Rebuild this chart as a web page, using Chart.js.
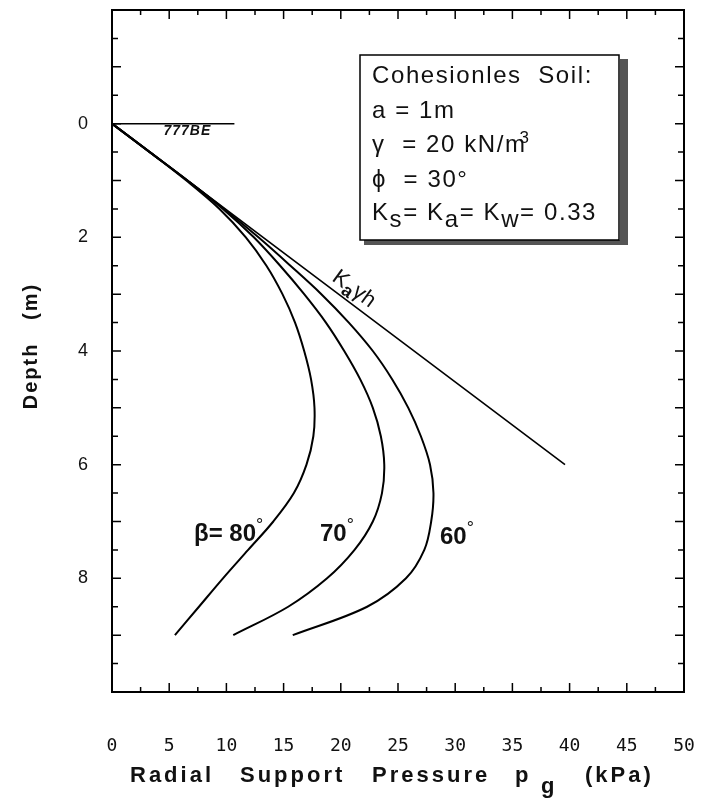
<!DOCTYPE html>
<html>
<head>
<meta charset="utf-8">
<script src="https://cdn.jsdelivr.net/npm/chart.js"></script>
<style>
  body { margin: 0; background: #fff; }
  canvas { display: block; }
</style>
</head>
<body>
<canvas id="supportChart" width="708" height="803"></canvas>
<script>
// depth points (m) shared by the three beta curves
const depth = [0, 0.5, 1, 1.5, 2, 2.5, 3, 3.5, 4, 4.5, 5, 5.5, 6, 6.5, 7, 7.5, 8, 8.5, 9];
// radial support pressure (kPa)
const p80 = [0, 3.3, 6.5, 9.4, 11.7, 13.5, 14.9, 16.0, 16.8, 17.4, 17.7, 17.6, 17.0, 15.9, 14.1, 11.9, 9.7, 7.6, 5.5];
const p70 = [0, 3.3, 6.6, 9.7, 12.4, 14.7, 16.8, 18.7, 20.3, 21.7, 22.8, 23.5, 23.8, 23.6, 22.8, 21.2, 18.8, 15.4, 10.6];
const p60 = [0, 3.3, 6.6, 9.8, 12.8, 15.6, 18.3, 20.7, 22.8, 24.5, 25.9, 27.0, 27.8, 28.1, 27.9, 27.3, 25.7, 22.3, 15.8];
// Ka*gamma*h line
const kaDepth = [0, 6];
const kaP = [0, 39.6];
// ground surface
const groundDepth = [0, 0];
const groundP = [0, 10.7];

const xTicks = [0, 5, 10, 15, 20, 25, 30, 35, 40, 45, 50];
const yTickLabels = [0, 2, 4, 6, 8];

function toPoints(xs, ys) {
  return xs.map((v, i) => ({ x: v, y: ys[i] }));
}

function curve(xs, ys, width) {
  return {
    data: toPoints(xs, ys),
    showLine: true,
    indexAxis: 'y',
    tension: 0.35,
    borderColor: '#000',
    borderWidth: width,
    pointRadius: 0,
    fill: false
  };
}

// draws a run of text pieces, some raised or lowered
function drawRich(ctx, parts, x, y) {
  let cx = x;
  parts.forEach(p => {
    ctx.font = p.font;
    ctx.fillText(p.t, cx, y + (p.dy || 0));
    cx += ctx.measureText(p.t).width + (p.gap || 0);
  });
  return cx;
}

const decorations = {
  id: 'decorations',
  afterDraw(chart) {
    const { ctx, chartArea: a, scales: { x, y } } = chart;
    ctx.save();
    ctx.strokeStyle = '#000';
    ctx.fillStyle = '#111';

    // frame
    ctx.lineWidth = 2;
    ctx.strokeRect(a.left, a.top, a.right - a.left, a.bottom - a.top);

    // inward ticks
    ctx.lineWidth = 1.5;
    ctx.beginPath();
    for (let v = 0; v <= 50; v += 2.5) {
      const px = x.getPixelForValue(v);
      const len = v % 5 === 0 ? 9 : 5;
      ctx.moveTo(px, a.bottom); ctx.lineTo(px, a.bottom - len);
      ctx.moveTo(px, a.top); ctx.lineTo(px, a.top + len);
    }
    for (let d = -2; d <= 10; d += 0.5) {
      const py = y.getPixelForValue(d);
      const len = d % 1 === 0 ? 9 : 6;
      ctx.moveTo(a.left, py); ctx.lineTo(a.left + len, py);
      ctx.moveTo(a.right, py); ctx.lineTo(a.right - len, py);
    }
    ctx.stroke();

    // ground hatch
    ctx.font = 'italic bold 14px "Liberation Sans"';
    ctx.letterSpacing = '1px';
    ctx.fillText('777BE', x.getPixelForValue(4.5), y.getPixelForValue(0) + 11);

    // info box with shadow
    ctx.fillStyle = '#555';
    ctx.fillRect(620, 59, 8, 186);
    ctx.fillRect(364, 240, 264, 5);
    ctx.fillStyle = '#fff';
    ctx.fillRect(360, 55, 259, 185);
    ctx.lineWidth = 1.5;
    ctx.strokeRect(360, 55, 259, 185);

    ctx.fillStyle = '#111';
    ctx.letterSpacing = '1.6px';
    const f = '24px "Liberation Sans"';
    const lx = 372;
    const lh = 34.5;
    drawRich(ctx, [{ t: 'Cohesionles  Soil:', font: f }], lx, 83);
    drawRich(ctx, [{ t: 'a = 1m', font: f }], lx, 83 + lh);
    drawRich(ctx, [{ t: 'γ  = 20 kN/m', font: f, gap: -7 }, { t: '3', font: '17px "Liberation Sans"', dy: -9 }], lx, 83 + lh * 2);
    drawRich(ctx, [{ t: 'ϕ  = 30°', font: f }], lx, 83 + lh * 3);
    drawRich(ctx, [
      { t: 'K', font: f }, { t: 's', font: f, dy: 7 },
      { t: '= K', font: f }, { t: 'a', font: f, dy: 7 },
      { t: '= K', font: f }, { t: 'w', font: f, dy: 7 },
      { t: '= 0.33', font: f }
    ], lx, 82 + lh * 4);
    ctx.letterSpacing = '0px';

    // Ka gamma h label along the line
    ctx.save();
    ctx.translate(331, 280);
    ctx.rotate(36 * Math.PI / 180);
    drawRich(ctx, [
      { t: 'K', font: '22px "Liberation Sans"' },
      { t: 'a', font: 'bold 18px "Liberation Sans"', dy: 5 },
      { t: 'γh', font: '22px "Liberation Sans"' }
    ], 0, 0);
    ctx.restore();

    // beta curve labels
    const lf = 'bold 24px "Liberation Sans"';
    const df = '18px "Liberation Sans"';
    drawRich(ctx, [{ t: 'β= 80', font: lf }, { t: '°', font: df, dy: -10 }], 194, 541);
    drawRich(ctx, [{ t: '70', font: lf }, { t: '°', font: df, dy: -10 }], 320, 541);
    drawRich(ctx, [{ t: '60', font: lf }, { t: '°', font: df, dy: -10 }], 440, 544);

    // axis titles, words spread out like the original
    ctx.font = 'bold 22px "Liberation Sans"';
    ctx.letterSpacing = '3px';
    ctx.fillText('Radial', 130, 782);
    ctx.fillText('Support', 240, 782);
    ctx.fillText('Pressure', 372, 782);
    ctx.fillText('p', 515, 782);
    ctx.fillText('g', 541, 793);
    ctx.fillText('(kPa)', 585, 782);

    ctx.save();
    ctx.translate(37, 346);
    ctx.rotate(-Math.PI / 2);
    ctx.font = 'bold 20px "Liberation Sans"';
    ctx.textAlign = 'center';
    ctx.letterSpacing = '2px';
    ctx.fillText('Depth   (m)', 0, 0);
    ctx.restore();

    ctx.restore();
  }
};

const ctx = document.getElementById('supportChart').getContext('2d');
new Chart(ctx, {
  type: 'scatter',
  data: {
    datasets: [
      curve(p80, depth, 2),
      curve(p70, depth, 2),
      curve(p60, depth, 2),
      curve(kaP, kaDepth, 1.6),
      curve(groundP, groundDepth, 1.5)
    ]
  },
  options: {
    responsive: false,
    animation: false,
    layout: { padding: { top: 10, right: 24, left: 0, bottom: 0 } },
    plugins: {
      legend: { display: false },
      tooltip: { enabled: false }
    },
    scales: {
      x: {
        type: 'linear',
        min: 0,
        max: 50,
        grid: { display: false, drawTicks: false },
        border: { display: false },
        afterBuildTicks: s => { s.ticks = xTicks.map(v => ({ value: v })); },
        ticks: {
          color: '#111',
          padding: 44,
          font: { family: '"DejaVu Sans Mono"', size: 18 }
        },
        afterFit: s => { s.height = 111; s.paddingLeft = 0; s.paddingRight = 0; }
      },
      y: {
        type: 'linear',
        min: -2,
        max: 10,
        reverse: true,
        grid: { display: false, drawTicks: false },
        border: { display: false },
        afterBuildTicks: s => { s.ticks = yTickLabels.map(v => ({ value: v })); },
        ticks: {
          color: '#111',
          padding: 24,
          font: { family: '"Liberation Sans"', size: 18 }
        },
        afterFit: s => { s.width = 112; s.paddingTop = 0; s.paddingBottom = 0; }
      }
    }
  },
  plugins: [decorations]
});
</script>
</body>
</html>
